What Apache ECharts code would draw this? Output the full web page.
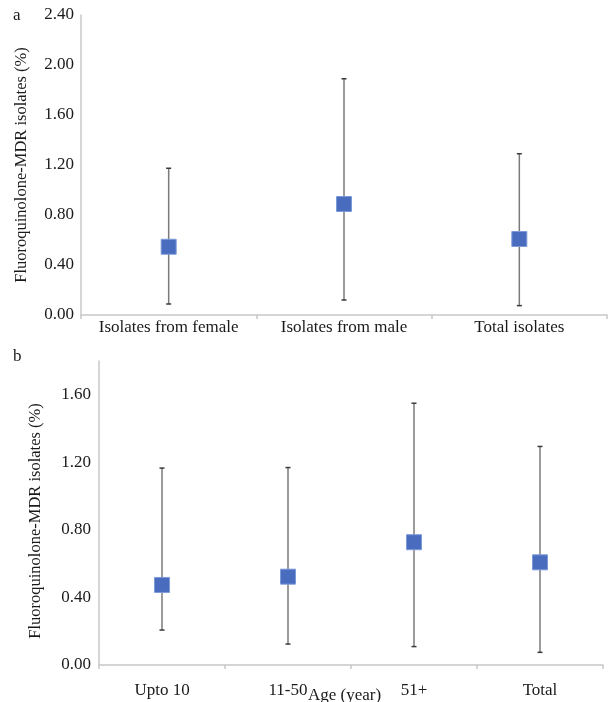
<!DOCTYPE html>
<html>
<head>
<meta charset="utf-8">
<script src="https://cdn.jsdelivr.net/npm/echarts@6/dist/echarts.min.js"></script>
<style>
html,body{margin:0;padding:0;background:#fff;}
#chart{width:609px;height:702px;}
</style>
</head>
<body>
<div id="chart"></div>
<script>
// Panel a: by sex
var catsA = ["Isolates from female", "Isolates from male", "Total isolates"];
var meanA = [0.546, 0.888, 0.608];
var lowA  = [0.088, 0.120, 0.075];
var highA = [1.174, 1.890, 1.290];

// Panel b: by age
var catsB = ["Upto 10", "11-50", "51+", "Total"];
var meanB = [0.474, 0.523, 0.727, 0.608];
var lowB  = [0.207, 0.124, 0.109, 0.075];
var highB = [1.166, 1.169, 1.550, 1.294];

var yTicksA = [0, 0.4, 0.8, 1.2, 1.6, 2.0, 2.4];
var yTicksB = [0, 0.4, 0.8, 1.2, 1.6];

var yNameText = "Fluoroquinolone-MDR isolates (%)";
var xNameB = "Age (year)";

var FONT = "'Liberation Serif', 'Times New Roman', serif";
var TXT = "#1a1a1a";
var AXC = "#c8c8c8";

function errData(cats, lo, hi) {
  return cats.map(function (c, i) { return [i, lo[i], hi[i]]; });
}
function errRender(params, api) {
  var x = api.value(0);
  var lo = api.coord([x, api.value(1)]);
  var hi = api.coord([x, api.value(2)]);
  var cw = 2.5;
  var st = { stroke: "#7a7a7a", lineWidth: 1.5 };
  var cst = { stroke: "#3a3a3a", lineWidth: 1.5 };
  return {
    type: "group",
    children: [
      { type: "line", shape: { x1: lo[0], y1: lo[1], x2: hi[0], y2: hi[1] }, style: st },
      { type: "line", shape: { x1: hi[0] - cw, y1: hi[1], x2: hi[0] + cw, y2: hi[1] }, style: cst },
      { type: "line", shape: { x1: lo[0] - cw, y1: lo[1], x2: lo[0] + cw, y2: lo[1] }, style: cst }
    ]
  };
}

var chart = echarts.init(document.getElementById("chart"), null, { renderer: "canvas" });

var option = {
  animation: false,
  backgroundColor: "#ffffff",
  textStyle: { fontFamily: FONT, color: TXT },
  grid: [
    { left: 81, top: 15, right: 2, height: 300, outerBoundsMode: "none", containLabel: false },
    { left: 99, top: 361, right: 6, height: 304, outerBoundsMode: "none", containLabel: false }
  ],
  graphic: [
    { type: "text", left: 13, top: 7, style: { text: "a", font: "17px " + FONT, fill: TXT } },
    { type: "text", left: 13, top: 348, style: { text: "b", font: "17px " + FONT, fill: TXT } }
  ],
  xAxis: [
    {
      type: "category", gridIndex: 0, data: catsA,
      axisLine: { lineStyle: { color: AXC, width: 1.5 } },
      axisTick: { show: true, length: 4, lineStyle: { color: AXC, width: 1.5 } },
      axisLabel: { color: TXT, fontFamily: FONT, fontSize: 17, margin: 4, interval: 0 },
      splitLine: { show: false }
    },
    {
      type: "category", gridIndex: 1, data: catsB,
      name: xNameB, nameLocation: "middle", nameGap: 22, nameMoveOverlap: false,
      nameTextStyle: { color: TXT, fontFamily: FONT, fontSize: 17, verticalAlign: "top", padding: [0, 13, 0, 0] },
      axisLine: { lineStyle: { color: AXC, width: 1.5 } },
      axisTick: { show: true, length: 4, lineStyle: { color: AXC, width: 1.5 } },
      axisLabel: { color: TXT, fontFamily: FONT, fontSize: 17, margin: 17, interval: 0 },
      splitLine: { show: false }
    }
  ],
  yAxis: [
    {
      type: "value", gridIndex: 0, min: yTicksA[0], max: yTicksA[yTicksA.length - 1], interval: 0.4,
      name: yNameText, nameLocation: "middle", nameGap: 51, nameRotate: 90, nameMoveOverlap: false,
      nameTextStyle: { color: TXT, fontFamily: FONT, fontSize: 16.5 },
      axisLine: { show: true, lineStyle: { color: AXC, width: 1.5 } },
      axisTick: { show: false },
      splitLine: { show: false },
      axisLabel: { color: TXT, fontFamily: FONT, fontSize: 17, margin: 7,
        formatter: function (v) { return v.toFixed(2); } }
    },
    {
      type: "value", gridIndex: 1, min: yTicksB[0], max: 1.8, interval: 0.4,
      name: yNameText, nameLocation: "middle", nameGap: 55, nameRotate: 90, nameMoveOverlap: false,
      nameTextStyle: { color: TXT, fontFamily: FONT, fontSize: 16.5, padding: [0, 16, 0, 0] },
      axisLine: { show: true, lineStyle: { color: AXC, width: 1.5 } },
      axisTick: { show: false },
      splitLine: { show: false },
      axisLabel: { color: TXT, fontFamily: FONT, fontSize: 17, margin: 8, showMaxLabel: false,
        formatter: function (v) { return v.toFixed(2); } }
    }
  ],
  series: [
    {
      type: "custom", xAxisIndex: 0, yAxisIndex: 0,
      renderItem: errRender, data: errData(catsA, lowA, highA), z: 2
    },
    {
      type: "scatter", xAxisIndex: 0, yAxisIndex: 0, symbol: "rect", symbolSize: 15,
      itemStyle: { color: "#4a6cbf", borderColor: "#7d9ad8", borderWidth: 1, opacity: 1 },
      data: meanA, z: 3
    },
    {
      type: "custom", xAxisIndex: 1, yAxisIndex: 1,
      renderItem: errRender, data: errData(catsB, lowB, highB), z: 2
    },
    {
      type: "scatter", xAxisIndex: 1, yAxisIndex: 1, symbol: "rect", symbolSize: 15,
      itemStyle: { color: "#4a6cbf", borderColor: "#7d9ad8", borderWidth: 1, opacity: 1 },
      data: meanB, z: 3
    }
  ]
};
chart.setOption(option);
</script>
</body>
</html>
